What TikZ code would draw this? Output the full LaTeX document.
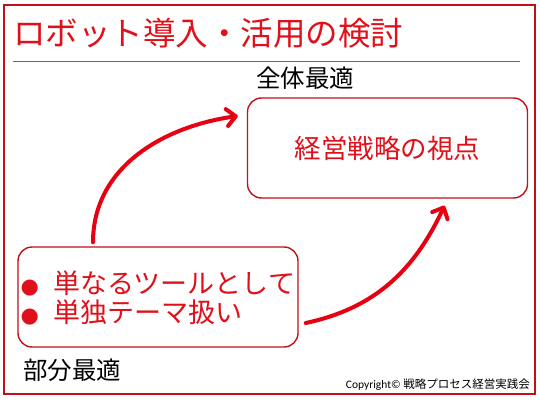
\documentclass[tikz,border=0pt]{standalone}
\usepackage{fontspec}
\setmainfont{Carlito}
\newfontfamily\jpfont{Noto Sans CJK JP}
\newfontfamily\symfont{DejaVu Sans}
\usetikzlibrary{arrows.meta,positioning}
\definecolor{titlered}{RGB}{224,16,26}
\definecolor{boxred}{RGB}{192,16,24}
\definecolor{arrowred}{RGB}{230,0,18}

\begin{document}
\begin{tikzpicture}[x=1pt,y=1pt,
    viewbox/.style={draw=boxred,line width=1.4pt,rounded corners=14pt,
      minimum width=280pt,minimum height=100pt,inner sep=0pt},
    levellabel/.style={font=\jpfont\fontsize{24.5}{26}\selectfont,inner sep=0pt},
    bigarrow/.style={arrowred,line width=4pt,line cap=round,
      -{Straight Barb[length=9pt,width=17pt,line width=4pt,round]}}]
      \useasboundingbox (0,0) rectangle (540,405);
      % outer frame and title
      \draw[boxred,line width=1.6pt] (4,11) rectangle (535,400);
      \node[anchor=west,inner sep=0pt,titlered,font=\jpfont\fontsize{32.5}{34}\selectfont] (title) at (13,372) {ロボット導入・活用の検討};
      \draw[boxred!80,line width=0.6pt] (13,344) -- (520,344);
      % the two boxes
      \node[viewbox] (whole) at (387.5,257) {};
      \node[titlered,font=\jpfont\fontsize{26.5}{28}\selectfont] (wholetext) at (whole.center) {経営戦略の視点};
      \node[viewbox] (part) at (158,108) {};
      \node[titlered,anchor=west,align=left,inner sep=0pt,font=\jpfont\fontsize{27}{29}\selectfont] (parttext) at ([xshift=3pt,yshift=-1pt]part.west)
        {\makebox[33pt][l]{\symfont\fontsize{21}{21}\selectfont ●}単なるツールとして\\\makebox[33pt][l]{\symfont\fontsize{21}{21}\selectfont ●}単独テーマ扱い};
      % level labels
      \node[levellabel,anchor=west] (wholelabel) at (256,327) {全体最適};
      \node[levellabel,anchor=west] (partlabel) at (23,35) {部分最適};
      % arrows
      \draw[bigarrow] ([xshift=-65pt,yshift=4pt]part.north) to[out=90,in=188] ([xshift=-9pt,yshift=32pt]whole.west);
      \draw[bigarrow] ([xshift=7pt,yshift=-26pt]part.east) to[out=12,in=245] ([xshift=57pt,yshift=-7pt]whole.south);
      % copyright
      \node[anchor=east,inner sep=0pt,font=\fontsize{11.5}{13}\selectfont] (copy) at (530,20) {Copyright© {\jpfont 戦略プロセス経営実践会}};
\end{tikzpicture}
\end{document}
